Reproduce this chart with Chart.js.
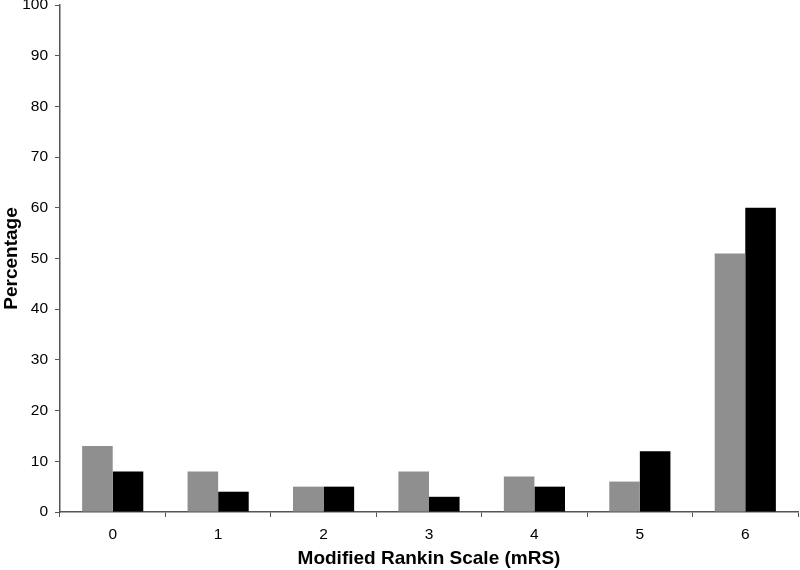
<!DOCTYPE html>
<html>
<head>
<meta charset="utf-8">
<script src="https://cdn.jsdelivr.net/npm/chart.js@4/dist/chart.umd.min.js"></script>
<style>
  html, body { margin: 0; padding: 0; background: #fff; }
  #wrap { width: 800px; height: 570px; }
</style>
</head>
<body>
<div id="wrap"><canvas id="mrs-chart" width="800" height="570"></canvas></div>
<script>
const categories = ["0", "1", "2", "3", "4", "5", "6"];
const greyValues = [13, 8, 5, 8, 7, 6, 51];
const blackValues = [8, 4, 5, 3, 5, 12, 60];
const yTicks = [0, 10, 20, 30, 40, 50, 60, 70, 80, 90, 100];

const axisColor = "#555555";
const font = { family: "Liberation Sans, Arial, sans-serif", size: 15.5 };
const titleFont = { family: "Liberation Sans, Arial, sans-serif", size: 19, weight: "bold" };

const data = {
    labels: categories,
    datasets: [
        {
            label: "Grey",
            data: greyValues,
            backgroundColor: "#8f8f8f",
            borderWidth: 0,
        },
        {
            label: "Black",
            data: blackValues,
            backgroundColor: "#000000",
            borderWidth: 0,
        },
    ],
};

const config = {
    type: "bar",
    data: data,
    options: {
        responsive: false,
        animation: false,
        layout: { padding: { top: 5, right: 2, left: 0, bottom: 0 } },
        plugins: { legend: { display: false }, tooltip: { enabled: false } },
        datasets: { bar: { categoryPercentage: 0.58, barPercentage: 1.0 } },
        scales: {
            x: {
                grid: { display: true, drawOnChartArea: false, drawTicks: true, tickLength: 5, color: axisColor, offset: true },
                border: { color: axisColor, width: 1.5 },
                ticks: { color: "#000", font: font, padding: 8 },
                title: { display: true, text: "Modified Rankin Scale (mRS)", color: "#000", font: titleFont, padding: { top: 6, bottom: 0 } },
                afterFit: (scale) => { scale.height = 58; },
            },
            y: {
                min: 0,
                max: 100,
                afterBuildTicks: (scale) => { scale.ticks = yTicks.map(v => ({ value: v })); },
                grid: { display: true, drawOnChartArea: false, drawTicks: true, tickLength: 5, color: axisColor },
                border: { color: axisColor, width: 1.5 },
                ticks: { color: "#000", font: font, padding: 7 },
                title: { display: true, text: "Percentage", color: "#000", font: titleFont, padding: { top: 0, bottom: 4 } },
                afterFit: (scale) => {
                    scale.width = 60;
                    // let the top label sit at the very edge, like the original
                    scale.paddingTop = 0;
                    scale.paddingBottom = 0;
                },
            },
        },
    },
};

const ctx = document.getElementById("mrs-chart");
const mrsChart = new Chart(ctx, config);
</script>
</body>
</html>
